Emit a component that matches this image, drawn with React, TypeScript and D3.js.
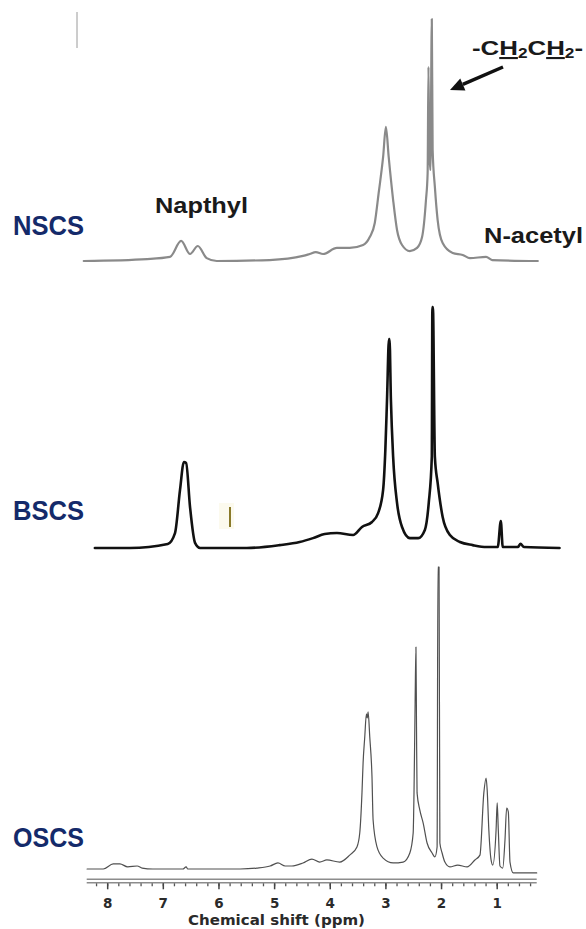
import React, { useEffect } from 'react';
import * as d3 from 'd3';

// Chemical shift axis (ppm), drawn high-to-low as usual for NMR
const SHIFT_DOMAIN = [8.377, 0.29];
const MAJOR_TICKS = [8, 7, 6, 5, 4, 3, 2, 1];
const MINOR_TICKS = d3.range(0.4, 8.3, 0.2).map((v) => +v.toFixed(1));

// NSCS spectrum: shift (ppm) and relative intensity (% of tallest peak)
const NSCS_SHIFT = [8.43, 7.29, 6.88, 6.68, 6.52, 6.38, 6.22, 6.04, 5.09, 4.49, 4.37, 4.26, 4.13, 3.88, 3.65, 3.41, 3.29, 3.2, 3.13, 3.05, 3.0, 2.95, 2.87, 2.8, 2.71, 2.57, 2.44, 2.35, 2.28, 2.25, 2.235, 2.22, 2.2, 2.175, 2.16, 2.12, 2.07, 1.98, 1.8, 1.62, 1.49, 1.2, 1.09, 0.27];
const NSCS_INTENSITY = [0, 0.8, 1.7, 8.3, 2.9, 6.2, 1.2, 0, 0.4, 2.1, 2.9, 3.7, 2.9, 5.4, 5.4, 6.6, 9.9, 15.7, 28.1, 43.0, 55.4, 43.0, 25.2, 12.8, 6.6, 4.1, 5.4, 9.9, 25.2, 36.4, 80.2, 45, 37.6, 100, 45.9, 30.6, 16.9, 7.4, 3.3, 2.5, 1.2, 1.7, 0.4, 0];

// BSCS spectrum
const BSCS_SHIFT = [8.23, 7.6, 6.92, 6.79, 6.7, 6.63, 6.59, 6.52, 6.43, 6.34, 5.5, 4.91, 4.55, 4.31, 4.1, 3.88, 3.59, 3.43, 3.25, 3.14, 3.05, 3.01, 2.98, 2.945, 2.935, 2.91, 2.87, 2.8, 2.71, 2.57, 2.42, 2.3, 2.23, 2.175, 2.165, 2.155, 2.12, 2.07, 1.98, 1.85, 1.67, 1.44, 1.19, 0.99, 0.935, 0.9, 0.63, 0.58, 0.52, -0.12];
const BSCS_INTENSITY = [0, 0, 1.7, 6.2, 24.1, 35.7, 35.3, 17.0, 2.1, 0, 0, 1.2, 2.5, 4.1, 5.8, 6.2, 5.4, 8.7, 10.8, 14.5, 24.1, 40.7, 61.4, 86.7, 86.7, 61.4, 37.8, 18.7, 8.7, 4.1, 4.1, 7.5, 18.7, 37.8, 100, 100, 37.8, 27.0, 12.9, 5.4, 2.5, 1.2, 0.4, 0.4, 11.2, 0.4, 0.4, 1.7, 0.4, 0];

// OSCS spectrum
const OSCS_SHIFT = [8.37, 8.08, 7.9, 7.78, 7.64, 7.47, 7.38, 7.19, 6.65, 6.59, 6.56, 5.62, 5.32, 5.08, 4.94, 4.81, 4.69, 4.49, 4.33, 4.19, 4.06, 3.83, 3.65, 3.52, 3.47, 3.43, 3.41, 3.38, 3.35, 3.335, 3.32, 3.29, 3.25, 3.23, 3.16, 3.05, 2.87, 2.69, 2.57, 2.51, 2.495, 2.475, 2.46, 2.45, 2.44, 2.39, 2.33, 2.26, 2.17, 2.12, 2.08, 2.065, 2.045, 2.03, 1.99, 1.94, 1.85, 1.71, 1.54, 1.4, 1.31, 1.24, 1.2, 1.18, 1.15, 1.11, 1.08, 1.02, 1.0, 0.98, 0.95, 0.9, 0.86, 0.83, 0.8, 0.77, 0.71, 0.29];
const OSCS_INTENSITY = [0, 0, 1.7, 1.7, 0.7, 1.0, 0.3, 0, 0, 0.7, 0, 0, 0.3, 1.0, 2.0, 1.0, 1.0, 2.0, 3.3, 2.3, 3.0, 2.3, 4.6, 7.3, 11.9, 25.2, 35.1, 43.7, 51.4, 50.0, 52.0, 43.7, 30.5, 16.2, 7.3, 3.6, 2.0, 2.3, 5.3, 11.9, 25.2, 55.0, 73.5, 47.0, 25.2, 19.5, 15.2, 8.6, 5.3, 4.0, 7.3, 100, 100, 8.6, 5.3, 2.3, 0.7, 1.3, 0.7, 3.0, 4.6, 25.2, 30.1, 26.2, 12.9, 3.0, 1.3, 12.9, 21.9, 12.9, 1.0, 0.3, 9.6, 20.2, 18.9, 2.3, -1.3, -1.3];

const SAMPLE_NAMES = ['NSCS', 'BSCS', 'OSCS'];
const AXIS_TITLE = 'Chemical shift (ppm)';

const W = 586;
const H = 929;

const x = d3.scaleLinear().domain(SHIFT_DOMAIN).range([86.7, 536.7]);

const panels = [
  { name: SAMPLE_NAMES[0], shift: NSCS_SHIFT, intensity: NSCS_INTENSITY, base: 261, top: 19, stroke: '#8a8a8a', width: 2.2, labelY: 235 },
  { name: SAMPLE_NAMES[1], shift: BSCS_SHIFT, intensity: BSCS_INTENSITY, base: 548, top: 307, stroke: '#111111', width: 2.6, labelY: 520 },
  { name: SAMPLE_NAMES[2], shift: OSCS_SHIFT, intensity: OSCS_INTENSITY, base: 869, top: 567, stroke: '#505050', width: 1.2, labelY: 847 },
];

const AXIS_Y = 879.3;
const LABEL_COLOR = '#142a6a';
const SANS = "'Liberation Sans', Arial, sans-serif";
const WIDE = "'DejaVu Sans', sans-serif";

function arrowHead(x0: number, y0: number, x1: number, y1: number, len: number, half: number) {
  const dx = x1 - x0;
  const dy = y1 - y0;
  const l = Math.hypot(dx, dy);
  const ux = dx / l;
  const uy = dy / l;
  const bx = x1 - ux * len;
  const by = y1 - uy * len;
  const nx = -uy;
  const ny = ux;
  return {
    base: [bx, by],
    points: `${x1},${y1} ${bx + nx * half},${by + ny * half} ${bx - nx * half},${by - ny * half}`,
  };
}

export default function App() {
  useEffect(() => {
    document.body.style.margin = '0';
  }, []);

  const head = arrowHead(503, 67, 450, 90, 14, 6.5);

  return (
    <svg width={W} height={H} viewBox={`0 0 ${W} ${H}`} style={{ position: 'absolute', left: 0, top: 0, background: '#fff' }}>
      <rect x={0} y={0} width={W} height={H} fill="#fff" />

      {/* small marks carried in the source figure */}
      <line x1={77} y1={12} x2={77} y2={48} stroke="#9a9a9a" strokeWidth={1} />
      <rect x={219} y={503} width={15} height={26} fill="#fcfaee" />
      <line x1={230} y1={507} x2={230} y2={527} stroke="#8a7a2a" strokeWidth={2} />

      {panels.map((p) => {
        const y = d3.scaleLinear().domain([0, 100]).range([p.base, p.top]);
        const pts = p.shift.map((s, i) => [s, p.intensity[i]] as [number, number]);
        const path = d3
          .line<[number, number]>()
          .x((d) => x(d[0]))
          .y((d) => y(d[1]))
          .curve(d3.curveMonotoneX)(pts);
        return (
          <g key={p.name}>
            <path d={path || ''} fill="none" stroke={p.stroke} strokeWidth={p.width} strokeLinejoin="round" strokeLinecap="round" />
            <text
              x={13}
              y={p.labelY}
              fill={LABEL_COLOR}
              fontFamily={SANS}
              fontWeight="bold"
              fontSize={28}
              textLength={71}
              lengthAdjust="spacingAndGlyphs"
            >
              {p.name}
            </text>
          </g>
        );
      })}

      {/* peak annotations */}
      <text x={155} y={213} fontFamily={SANS} fontWeight="bold" fontSize={22} fill="#1a1a1a" textLength={93} lengthAdjust="spacingAndGlyphs">
        Napthyl
      </text>
      <text x={484} y={243} fontFamily={SANS} fontWeight="bold" fontSize={22} fill="#1a1a1a" textLength={99} lengthAdjust="spacingAndGlyphs">
        N-acetyl
      </text>
      <text x={472} y={55} fontFamily={SANS} fontWeight="bold" fontSize={21} fill="#1a1a1a" textLength={111} lengthAdjust="spacingAndGlyphs">
        <tspan>-C</tspan>
        <tspan textDecoration="underline">H</tspan>
        <tspan fontSize={14} dy={3}>2</tspan>
        <tspan dy={-3}>C</tspan>
        <tspan textDecoration="underline">H</tspan>
        <tspan fontSize={14} dy={3}>2</tspan>
        <tspan dy={-3}>-</tspan>
      </text>
      <line x1={503} y1={67} x2={head.base[0]} y2={head.base[1]} stroke="#111" strokeWidth={3.5} />
      <polygon points={head.points} fill="#111" />

      {/* chemical shift axis */}
      <line x1={x.range()[0]} x2={x.range()[1]} y1={AXIS_Y} y2={AXIS_Y} stroke="#8c8c8c" strokeWidth={1.6} />
      <line x1={x.range()[0]} x2={x.range()[1]} y1={AXIS_Y + 3.4} y2={AXIS_Y + 3.4} stroke="#8c8c8c" strokeWidth={1.6} />
      {MINOR_TICKS.map((t) => (
        <line key={`m${t}`} x1={x(t)} x2={x(t)} y1={AXIS_Y + 4} y2={AXIS_Y + 7} stroke="#555" strokeWidth={1.3} />
      ))}
      {MAJOR_TICKS.map((t) => (
        <g key={`M${t}`}>
          <line x1={x(t)} x2={x(t)} y1={AXIS_Y + 4} y2={AXIS_Y + 10} stroke="#444" strokeWidth={1.5} />
          <text x={x(t)} y={907.5} textAnchor="middle" fontFamily={WIDE} fontWeight="bold" fontSize={13.5} fill="#2a2a2a">
            {t}
          </text>
        </g>
      ))}
      <text x={276.5} y={925} textAnchor="middle" fontFamily={WIDE} fontWeight="bold" fontSize={14} fill="#2a2a2a" textLength={177} lengthAdjust="spacingAndGlyphs">
        {AXIS_TITLE}
      </text>
    </svg>
  );
}
